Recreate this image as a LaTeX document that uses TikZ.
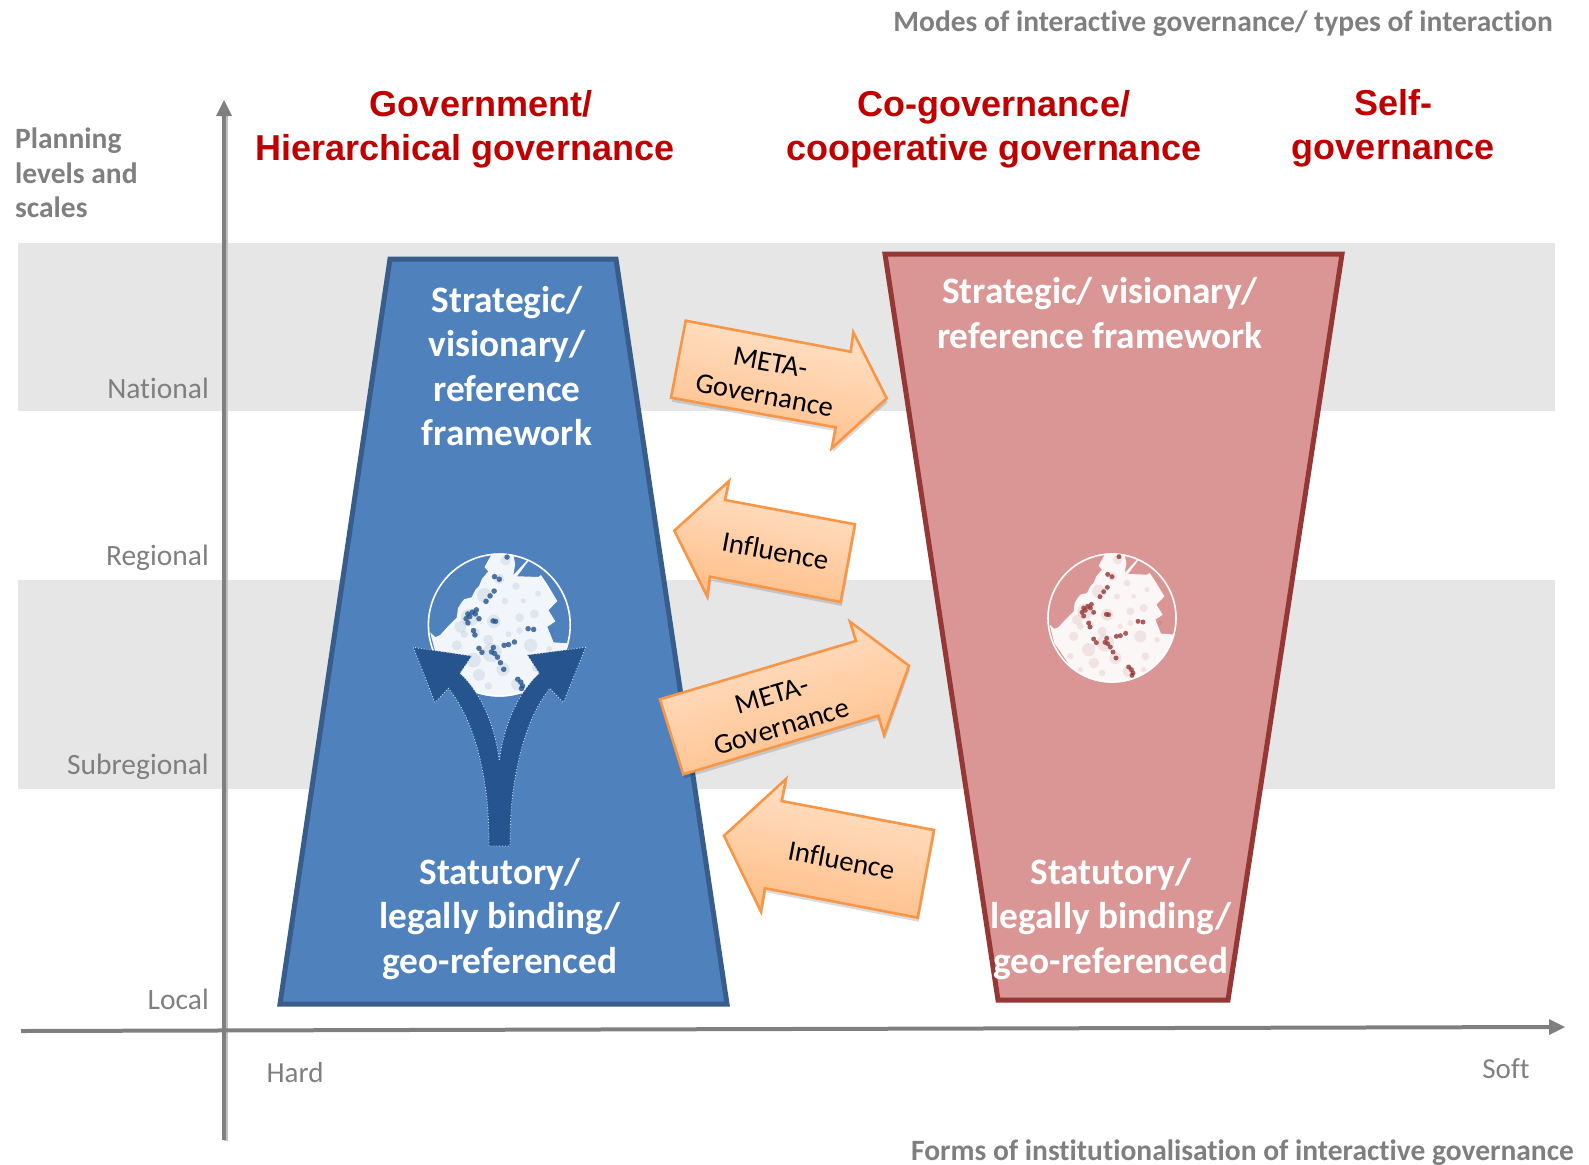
\documentclass[tikz,border=0pt]{standalone}
\usepackage{fontspec}
\setmainfont{Carlito}[Ligatures=NoCommon]
\newfontfamily\headfont{Liberation Sans}
\usetikzlibrary{shadows,calc}
\definecolor{band}{HTML}{E6E6E6}
\definecolor{axisgray}{HTML}{7F7F7F}
\definecolor{headred}{HTML}{C00000}
\definecolor{bluefill}{HTML}{4F81BD}
\definecolor{blueedge}{HTML}{385D8A}
\definecolor{bluedark}{HTML}{25548F}
\definecolor{redfill}{HTML}{D99694}
\definecolor{rededge}{HTML}{953735}
\definecolor{orangeedge}{HTML}{F79646}
\definecolor{orangetop}{HTML}{FFE3CC}
\definecolor{orangebot}{HTML}{FFBD85}
\tikzset{
  bandbox/.style={fill=band,draw=none},
  axisline/.style={draw=axisgray,line width=4pt},
  axishead/.style={fill=axisgray,draw=none},
  levellabel/.style={text=axisgray,font=\fontsize{29.5}{34.6}\selectfont,anchor=east,inner sep=0pt},
  softlabel/.style={text=axisgray,font=\fontsize{29}{34.6}\selectfont,inner sep=0pt},
  boldgray/.style={text=axisgray,font=\bfseries\fontsize{29.5}{34.6}\selectfont,inner sep=0pt},
  headlabel/.style={text=headred,font=\headfont\bfseries\fontsize{36}{43.5}\selectfont,align=center,inner sep=0pt},
  whitelabel/.style={text=white,font=\bfseries\fontsize{37.3}{44.6}\selectfont,align=center,inner sep=0pt},
  arrowlabel/.style={text=black,font=\fontsize{28.5}{33}\selectfont,align=center,inner sep=0pt},
  trapblue/.style={fill=bluefill,draw=blueedge,line width=5pt,line join=miter},
  trapred/.style={fill=redfill,draw=rededge,line width=5pt,line join=miter},
  blockarrow/.style={draw=orangeedge,line width=2.6pt,line join=miter,top color=orangetop,bottom color=orangebot,
    drop shadow={shadow xshift=1pt,shadow yshift=-4pt,opacity=.14,fill=black}},
}
\newcommand{\mapblob}[1]{%
  \draw[white,line width=1.6pt] (245,235) circle[radius=192];
  \begin{scope}
    \clip (245,235) circle[radius=194];
    \path[fill=white,fill opacity=.93] (225,42)--(282,40)--(288,70)--(283,100)--(320,60)--(325,60)--(293,103)--(350,105)--(358,100)--(375,125)--(402,170)--(378,195)--(397,225)--(375,240)--(392,282)--(437,285)--(420,330)--(380,400)--(300,432)--(245,436)--(180,425)--(120,380)--(72,310)--(58,255)--(72,268)--(85,262)--(105,240)--(130,215)--(133,190)--(142,175)--(150,165)--(170,160)--(180,140)--(190,130)--(198,110)--(215,90)--(205,78)--cycle;
    \foreach \x/\y/\r in {165/215/24,140/240/16,230/225/18,205/155/20,300/215/12,340/205/12,180/255/12,215/275/14,225/310/26,175/330/20,130/290/14,255/355/18,295/395/18,190/370/16,330/290/18,245/110/14,345/350/12,120/350/10,290/130/10,350/150/8,380/300/8,215/400/10,262/60/14,150/260/10,260/170/9,300/250/9,310/170/7,150/390/8,270/260/8,390/250/6,340/390/8}
      \fill[#1,opacity=.10] (\x,\y) circle[radius=\r];
  \end{scope}
  \foreach \x/\y in {266/51,232/104,245/111,231/143,220/156,209/171,183/194,172/200,160/205,165/212,155/218,160/229,180/205,190/218,175/250,179/262,228/224,235/225,323/245,338/247,258/290,270/288,286/281,190/298,198/309,229/296,224/308,232/312,240/322,248/337,257/355,295/382,303/390,308/400,305/407}
    \fill[#1,opacity=.8] (\x,\y) circle[radius=7.5];
}
\begin{document}
\begin{tikzpicture}[x=1pt,y=-1pt]
\useasboundingbox (0,0) rectangle (1589,1164);
% bands
\path[bandbox] (18,243) rectangle (1555,411);
\path[bandbox] (18,580) rectangle (1555,789);
% axes
\coordinate (ytop) at (224,114);
\coordinate (ytip) at (224,100);
\coordinate (ybot) at (224,1140);
\coordinate (xleft) at (21,1031);
\coordinate (xright) at (1552,1027);
\coordinate (xtip) at (1565,1027);
\draw[black!25,line width=4pt] ($(ybot)+(2,1)$) -- ($(ytop)+(2,1)$);
\draw[axisline] (ybot) -- (ytop);
\fill[axishead] (ytip) -- (232,116) -- (216,116) -- cycle;
\draw[axisline] (xleft) -- (xright);
\fill[axishead] (xtip) -- (1549,1019) -- (1549,1035) -- cycle;
% trapezoids
\draw[trapblue] (390,259) -- (616,259) -- (727,1004) -- (280,1004) -- cycle;
\draw[trapred] (885,254) -- (1342,254) -- (1228,1000) -- (998,1000) -- cycle;
% maps
\begin{scope}[shift={(1112,618)},x=.3333pt,y=-.3333pt,shift={(-245,-235)}]
  \mapblob{rededge}
\end{scope}
\begin{scope}[shift={(499.3,625)},x=.3693pt,y=-.3693pt,shift={(-245,-235)}]
  \mapblob{bluedark}
\end{scope}
% split arrow
\begin{scope}[shift={(400,530)},x=.3333pt,y=-.3333pt]
  \path[fill=bluedark,draw=white!75!bluefill,line width=.9pt,dotted]
    (267,948) .. controls (266,850) and (262,790) .. (245,710)
    .. controls (225,610) and (190,530) .. (145,475)
    -- (105,518) -- (40,352) -- (215,378) -- (180,430)
    .. controls (245,490) and (285,590) .. (298,692)
    .. controls (311,590) and (352,490) .. (418,430)
    -- (382,375) -- (557,352) -- (490,518) -- (450,475)
    .. controls (405,530) and (372,610) .. (352,710)
    .. controls (335,790) and (331,850) .. (330,948) -- cycle;
\end{scope}
% block arrows
\path[blockarrow,shading angle=-10.6] (685.7,320.7) -- (850.7,351.7) -- (853.3,332.3) -- (886.7,398.3) -- (831.7,448.3) -- (835.7,427.3) -- (671,397.7) -- cycle;
\path[blockarrow,shading angle=-10.6] (729,481) -- (725,500) -- (855,524.3) -- (840.7,602) -- (710,576.7) -- (707.3,596.7) -- (674.3,530.7) -- cycle;
\path[blockarrow,shading angle=16.5] (660,699.3) -- (856,641) -- (850,621.7) -- (909,665.7) -- (884,735) -- (878.3,715.7) -- (683.3,774.3) -- cycle;
\path[blockarrow,shading angle=-10.9] (786,779) -- (781.7,801) -- (934,830) -- (917.7,917.7) -- (765,888.3) -- (761,911.7) -- (724,835.7) -- cycle;
\node[arrowlabel,rotate=-10.6] (meta1) at (767.5,379) {META-\\Governance};
\node[arrowlabel,rotate=-10.6] (infl1) at (775.5,551) {Influence};
\node[arrowlabel,rotate=16.5] (meta2) at (777,711) {META-\\Governance};
\node[arrowlabel,rotate=-10.9] (infl2) at (841.5,860) {Influence};
% block text
\node[whitelabel] (bluetop) at (507,366) {Strategic/\\visionary/\\reference\\framework};
\node[whitelabel] (bluebot) at (500,919) {Statutory/\\legally binding/\\geo-referenced};
\node[whitelabel] (redtop) at (1100,313) {Strategic/ visionary/\\reference framework};
\node[whitelabel] (redbot) at (1111,919) {Statutory/\\legally binding/\\geo-referenced};
% headings
\node[headlabel] (h1a) at (481,104) {Government/};
\node[headlabel] (h1b) at (465,151) {Hierarchical governance};
\node[headlabel] (h2) at (994,129.5) {Co-governance/\\cooperative governance};
\node[headlabel] (h3) at (1393,128.5) {Self-\\governance};
% axis text
\node[boldgray,anchor=east] (modes) at (1553,24) {Modes of interactive governance/ types of interaction};
\node[boldgray,anchor=east] (forms) at (1574,1152.5) {Forms of institutionalisation of interactive governance};
\node[boldgray,anchor=west,align=left] (plan) at (15,173) {Planning\\levels and\\scales};
\node[levellabel] (nat) at (209,388) {National};
\node[levellabel] (reg) at (209,558) {Regional};
\node[levellabel] (sub) at (209,767) {Subregional};
\node[levellabel] (loc) at (209,999) {Local};
\node[softlabel] (hard) at (295,1073) {Hard};
\node[softlabel] (soft) at (1506,1069) {Soft};
\end{tikzpicture}
\end{document}
